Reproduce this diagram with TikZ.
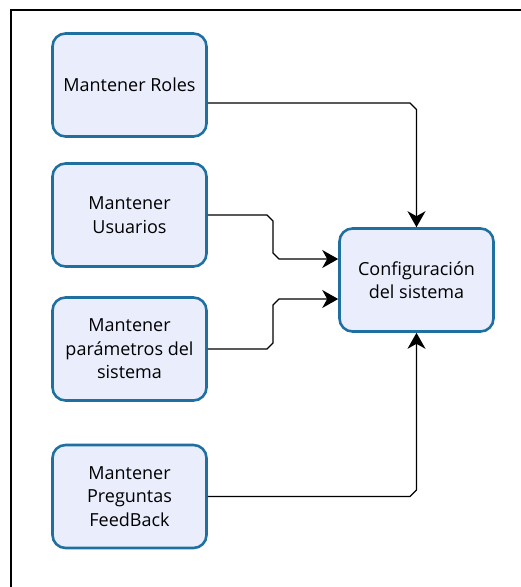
\documentclass[tikz,border=0pt]{standalone}
\usepackage{fontspec}
\setmainfont{Open Sans}
\usetikzlibrary{arrows.meta}
\definecolor{boxborder}{HTML}{1F6FA0}
\definecolor{boxfill}{HTML}{EAEEFC}
\begin{document}
\begin{tikzpicture}[x=1pt,y=-1pt,
  procbox/.style={draw=boxborder,fill=boxfill,line width=2.6pt,rounded corners=13pt,
    minimum width=154pt,minimum height=103pt,inner sep=0pt,align=center,
    font=\fontsize{18}{23.5}\selectfont},
  conn/.style={line width=1.3pt,-{Stealth[length=16pt,width=18pt,inset=5pt]}}]
\useasboundingbox (0,0) rectangle (521,587);
\draw[line width=1.5pt] (11,587) -- (11,10) -- (521,10);
\node[procbox] (roles) at (129.5,85) {Mantener Roles};
\node[procbox] (usu) at (129.5,215) {Mantener\\Usuarios};
\node[procbox] (par) at (129.5,349) {Mantener\\parámetros del\\sistema};
\node[procbox] (fb) at (129.5,496.5) {Mantener\\Preguntas\\FeedBack};
\node[procbox] (conf) at (416.5,280) {Configuración\\del sistema};
\draw[conn] (roles.east |- 0,103) -- (410,103) -- (416.5,109.5) -- (conf.north);
\draw[conn] (usu.east) -- (267,215) -- (273,221) -- (273,253) -- (279,259) -- (conf.west |- 0,259);
\draw[conn] (par.east) -- (267,349) -- (273,343) -- (273,305) -- (279,299) -- (conf.west |- 0,299);
\draw[conn] (fb.east) -- (410,496.5) -- (416.5,490) -- (conf.south);
\end{tikzpicture}
\end{document}
